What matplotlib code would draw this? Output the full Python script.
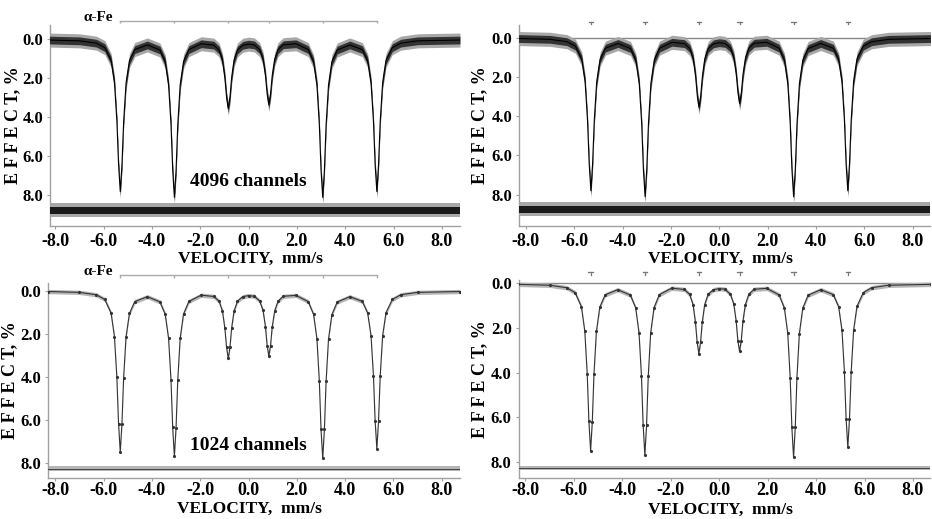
import matplotlib
matplotlib.use("Agg")
import matplotlib.pyplot as plt
import numpy as np

plt.rcParams["font.family"] = ["Liberation Serif", "DejaVu Serif"]
plt.rcParams["font.weight"] = "bold"
plt.rcParams["axes.unicode_minus"] = False

# alpha-Fe sextet line positions (mm/s)
LINES = [-5.31, -3.07, -0.84, 0.84, 3.07, 5.31]

# velocity points
VEL = [-8.3, -7.0, -6.3, -5.95, -5.69, -5.55, -5.45, -5.38, -5.31, -5.24, -5.17,
       -5.07, -4.93, -4.71, -4.19, -3.67, -3.45, -3.31, -3.21, -3.14, -3.07,
       -3.00, -2.93, -2.83, -2.69, -2.47, -1.96, -1.44, -1.22, -1.08, -0.98,
       -0.91, -0.84, -0.77, -0.70, -0.60, -0.46, -0.24, 0.0, 0.24, 0.46, 0.60,
       0.70, 0.77, 0.84, 0.91, 0.98, 1.08, 1.22, 1.44, 1.96, 2.47, 2.69, 2.83,
       2.93, 3.00, 3.07, 3.14, 3.21, 3.31, 3.45, 3.67, 4.19, 4.71, 4.93, 5.07,
       5.17, 5.24, 5.31, 5.38, 5.45, 5.55, 5.69, 5.95, 6.3, 7.0, 8.75]

# effect (%)
FIT_4096 = [0.04, 0.08, 0.20, 0.43, 1.08, 2.22, 4.20, 6.43, 7.80, 6.44, 4.21,
            2.24, 1.10, 0.53, 0.29, 0.55, 1.15, 2.34, 4.37, 6.69, 8.10,
            6.70, 4.38, 2.33, 1.14, 0.53, 0.23, 0.30, 0.55, 1.07, 1.97,
            2.98, 3.55, 2.98, 1.96, 1.07, 0.55, 0.31, 0.25, 0.29, 0.53, 1.01,
            1.85, 2.81, 3.35, 2.81, 1.86, 1.04, 0.53, 0.28, 0.23, 0.53, 1.14, 2.33,
            4.38, 6.70, 8.10, 6.70, 4.38, 2.34, 1.15, 0.55, 0.29, 0.53, 1.10, 2.24,
            4.21, 6.44, 7.80, 6.43, 4.20, 2.22, 1.08, 0.43, 0.20, 0.08, 0.04]

# effect (%)
FIT_1024 = [0.04, 0.08, 0.19, 0.41, 1.04, 2.14, 4.04, 6.19, 7.50, 6.20, 4.05,
            2.15, 1.06, 0.51, 0.28, 0.52, 1.09, 2.22, 4.16, 6.36, 7.70,
            6.37, 4.17, 2.22, 1.08, 0.50, 0.21, 0.27, 0.49, 0.95, 1.75,
            2.64, 3.15, 2.64, 1.74, 0.95, 0.49, 0.28, 0.23, 0.26, 0.48, 0.92,
            1.68, 2.56, 3.05, 2.56, 1.69, 0.95, 0.49, 0.26, 0.22, 0.51, 1.10, 2.24,
            4.22, 6.45, 7.80, 6.45, 4.22, 2.25, 1.11, 0.53, 0.28, 0.50, 1.04, 2.11,
            3.97, 6.07, 7.35, 6.06, 3.96, 2.09, 1.02, 0.41, 0.19, 0.08, 0.04]

# scatter of the points around the fit, and residual line level (%)
NOISE_4096, RESID_4096 = 0.36, 8.75
NOISE_1024, RESID_1024 = 0.10, 8.28

XTICKS = [-8, -6, -4, -2, 0, 2, 4, 6, 8]
YTICKS = [0, 2, 4, 6, 8]

GRAY = "#a0a0a0"

fig = plt.figure(figsize=(9.32, 5.19), dpi=100)

panels = [
    # rect, xlim, ylim, fit, noise, resid, left column, label, bracket/marker y
    ([0.0536, 0.5645, 0.4399, 0.3873], (-8.22, 8.75), (9.57, -0.73), FIT_4096, NOISE_4096, RESID_4096, True, "4096 channels", -0.95),
    ([0.5569, 0.5645, 0.4410, 0.3873], (-8.28, 8.71), (9.60, -0.65), FIT_4096, NOISE_4096, RESID_4096, False, None, -0.82),
    ([0.0515, 0.0784, 0.4420, 0.3769], (-8.30, 8.75), (8.73, -0.37), FIT_1024, NOISE_1024, RESID_1024, True, "1024 channels", -0.73),
    ([0.5565, 0.0788, 0.4415, 0.3815], (-8.28, 8.71), (8.73, -0.15), FIT_1024, NOISE_1024, RESID_1024, False, None, -0.52),
]

vel = np.array(VEL)
for rect, xl, yl, fit, noise, resid, left, label, my in panels:
    ax = fig.add_axes(rect)
    fit = np.array(fit)
    dense = noise > 0.2
    bottom_row = rect[1] < 0.3
    if not left:
        ax.axhline(0, color="#888888", lw=1.0, zorder=1)
    if dense:
        ax.fill_between(vel, fit - noise, fit + noise, color="#a8a8a8", lw=0, zorder=2)
        ax.fill_between(vel, fit - noise * 0.55, fit + noise * 0.55, color="#333333", lw=0, zorder=3)
        ax.plot(vel, fit, color="black", lw=0.8, zorder=4)
        ax.axhspan(resid - noise, resid + noise, color="#a8a8a8", lw=0, zorder=2)
        ax.axhspan(resid - noise * 0.5, resid + noise * 0.5, color="#1a1a1a", lw=0, zorder=3)
    else:
        ax.fill_between(vel, fit - noise, fit + noise, color="#b5b5b5", lw=0, zorder=2)
        ax.plot(vel, fit, color="#333333", lw=0.8, marker=".", ms=2.5, zorder=4)
        ax.axhspan(resid - noise, resid + noise, color="#b5b5b5", lw=0, zorder=2)
        ax.axhline(resid, color="#444444", lw=0.7, zorder=3)

    ax.set_xlim(*xl)
    ax.set_ylim(*yl)
    ax.set_xticks(XTICKS)
    ax.set_xticklabels([f"{v:.1f}" for v in XTICKS], fontsize=13, fontweight="bold")
    ax.set_yticks(YTICKS)
    ax.set_yticklabels([f"{v:.1f}" for v in YTICKS], fontsize=12, fontweight="bold")
    ax.tick_params(axis="both", length=2, color=GRAY, width=0.8)
    ax.tick_params(axis="x", pad=1 if bottom_row else 3)
    ax.tick_params(axis="y", pad=3)
    for s in ("top", "right"):
        ax.spines[s].set_visible(False)
    for s in ("left", "bottom"):
        ax.spines[s].set_color(GRAY)
        ax.spines[s].set_linewidth(1.0)

    ax.set_xlabel("VELOCITY,  mm/s", fontsize=12.5, fontweight="bold", va="center")
    ax.set_ylabel("E F F E C T, %", fontsize=13, fontweight="bold", va="center")
    ax.xaxis.set_label_coords(0.49, -0.158 if bottom_row else -0.162)
    ax.yaxis.set_label_coords(-0.092 if left else -0.095, 0.5)

    if left:
        # alpha-Fe stick bracket
        ax.plot([LINES[0], LINES[-1]], [my, my], color="#aaaaaa", lw=1.0, clip_on=False)
        ax.vlines(LINES, my, my + 0.12, color="#aaaaaa", lw=1.0, clip_on=False)
        ax.text(LINES[0] - 0.3, my - 0.15, "α-Fe", ha="right", va="center",
                fontsize=11, fontweight="bold")
        ax.text(0.0, 7.3 if dense else 7.2, label, ha="center", va="center",
                fontsize=14, fontweight="bold")
    else:
        for c in LINES:
            ax.plot([c - 0.09, c + 0.09], [my, my], color="#777777", lw=0.9, clip_on=False)
            ax.plot([c, c], [my, my + 0.12], color="#777777", lw=0.9, clip_on=False)

fig.savefig("out.png", dpi=100)
